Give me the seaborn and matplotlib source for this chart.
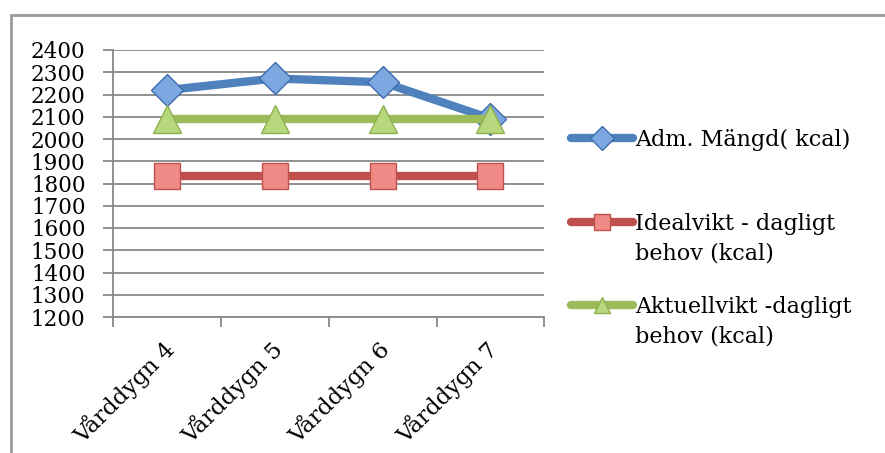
import matplotlib
matplotlib.use("Agg")
import matplotlib.pyplot as plt
import matplotlib.transforms as mtransforms
import seaborn as sns
import pandas as pd
from matplotlib.patches import Rectangle
from matplotlib.legend import Legend

categories = ["Vårddygn 4", "Vårddygn 5", "Vårddygn 6", "Vårddygn 7"]
adm_mangd = [2220, 2272, 2255, 2092]
idealvikt = [1832, 1832, 1832, 1832]
aktuellvikt = [2092, 2092, 2092, 2092]
series_names = ["Adm. Mängd( kcal)", "Idealvikt - dagligt\nbehov (kcal)", "Aktuellvikt -dagligt\nbehov (kcal)"]
y_ticks = list(range(1200, 2401, 100))

sns.set_theme(style="white")
plt.rcParams['font.family'] = ['DejaVu Serif', 'Liberation Serif']
plt.rcParams['text.color'] = 'black'
plt.rcParams['xtick.labelcolor'] = 'black'
plt.rcParams['ytick.labelcolor'] = 'black'

fig = plt.figure(figsize=(8.85, 4.53), dpi=100)
ax = fig.add_axes([0.128, 1 - 317/453, 0.487, (317 - 50)/453])

# outer chart border
fig.patches.append(Rectangle((11/885, -0.1), 1.2, 1 - 15/453 + 0.1, transform=fig.transFigure,
                             fill=False, edgecolor="#999999", linewidth=2.0, zorder=0))

styles = [
    dict(color="#4F81BD", marker="D", mfc="#7DA7E0", mec="#3D6DAE", ms=16),
    dict(color="#C0504D", marker="s", mfc="#F08A86", mec="#C0504D", ms=19),
    dict(color="#9BBB59", marker="^", mfc="#B7D77C", mec="#8FB04E", ms=20),
]
for name, vals, st in zip(series_names, [adm_mangd, idealvikt, aktuellvikt], styles):
    df = pd.DataFrame({"cat": categories, "val": vals})
    sns.lineplot(data=df, x="cat", y="val", ax=ax, color=st["color"], linewidth=6,
                 marker=st["marker"], markersize=st["ms"], markerfacecolor=st["mfc"],
                 markeredgecolor=st["mec"], markeredgewidth=1.0, label=name, sort=False,
                 solid_capstyle="round")

ax.set_xlim(-0.5, 3.5)
ax.set_ylim(1200, 2400)
ax.set_yticks(y_ticks)
ax.set_xlabel("")
ax.set_ylabel("")
ax.yaxis.grid(True, color="#888888", linewidth=1.3)
ax.set_axisbelow(True)
for s in ["top", "right"]:
    ax.spines[s].set_visible(False)
for s in ["left", "bottom"]:
    ax.spines[s].set_color("#888888")
    ax.spines[s].set_linewidth(1.3)

ax.tick_params(axis="y", which="major", length=7, width=1.3, color="#888888", direction="out",
               left=True, labelsize=15.5, pad=13, labelcolor="black")
ax.set_xticks(range(len(categories)))
ax.set_xticklabels(categories, rotation=45, ha="right", rotation_mode="anchor", fontsize=16.5)
ax.set_xticks([i - 0.5 for i in range(len(categories) + 1)], minor=True)
ax.tick_params(axis="x", which="major", length=0, pad=14, labelcolor="black")
ax.tick_params(axis="x", which="minor", length=7, width=1.3, color="#888888", direction="out", bottom=True)
shift = mtransforms.ScaledTranslation(-5/100, 0, fig.dpi_scale_trans)
for lbl in ax.get_xticklabels():
    lbl.set_transform(lbl.get_transform() + shift)

handles, labels = ax.get_legend_handles_labels()
ax.get_legend().remove()
legend_tops = [129, 213, 296]
for h, lab, top in zip(handles, labels, legend_tops):
    leg = Legend(ax, [h], [lab], loc="upper left", bbox_to_anchor=(571/885, 1 - top/453),
                 bbox_transform=fig.transFigure, frameon=False, fontsize=16,
                 handlelength=2.8, handletextpad=0.1, borderaxespad=0, borderpad=0,
                 handleheight=1.0, labelcolor="black")
    for t in leg.get_texts():
        t.set_linespacing(1.45)
    for line in leg.get_lines():
        line.set_linewidth(6)
        line.set_markersize(12)
    for col in leg._legend_handle_box.get_children():
        for row in col.get_children():
            row.align = "top"
    ax.add_artist(leg)

fig.savefig("out.png", dpi=100)
